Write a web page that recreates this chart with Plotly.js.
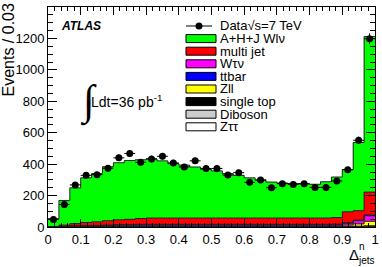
<!DOCTYPE html>
<html><head><meta charset="utf-8">
<script src="https://cdn.plot.ly/plotly-3.0.1.min.js"></script>
<style>html,body{margin:0;padding:0;background:#fff}#c{width:382px;height:267px}</style>
</head><body><div id="c"></div>
<script>
// 30 bins over [0,1]
const nBins = 30;
const xMin = 0, xMax = 1;
const dataCounts = [48,143,268,329,333,374,440,468,412,433,450,408,382,421,372,372,331,346,284,299,250,276,271,276,252,252,293,365,552,1198];
// MC components (per bin, not cumulative), bottom of stack first
const ztautau = [0,1,1,1,1,1,1,1,1,1,1,1,1,1,1,1,1,1,1,1,1,1,1,1,1,1,1,1,1,2];
const diboson = [0,0,1,1,1,1,1,1,1,1,1,1,1,1,1,1,1,1,1,1,1,1,1,1,1,1,1,1,1,2];
const singletop = [0,1,1,1,2,2,2,2,2,2,2,2,2,2,2,2,2,2,2,2,2,2,2,2,2,2,2,2,3,4];
const zll = [0,1,2,2,2,2,3,3,3,3,3,3,3,3,3,3,3,3,3,3,3,3,3,3,3,3,3,8,15,28];
const wtaunu = [0,1,2,3,3,4,6,6,7,7,7,7,7,7,7,7,7,7,7,7,7,7,7,7,7,7,8,12,20,35];
const ttbar = [0,0,1,1,1,2,2,2,3,3,3,3,3,3,3,3,3,3,3,3,3,3,3,3,3,3,3,3,4,6];
const multijet = [1,8,14,20,23,28,31,34,37,40,40,40,40,40,40,40,40,40,40,40,40,40,40,40,40,40,42,70,60,145];
const mcTotal = [53,169,249,313,340,384,409,423,428,434,421,403,394,382,367,357,340,329,313,300,286,280,277,274,272,288,318,365,538,1212];
const legendLabels = ["Data√s=7 TeV","A+H+J Wlν","multi jet","Wτν","ttbar","Zll","single top","Diboson","Zττ"];
const xTickVals = [0,0.1,0.2,0.3,0.4,0.5,0.6,0.7,0.8,0.9,1];
const xTickText = ["0","0.1","0.2","0.3","0.4","0.5","0.6","0.7","0.8","0.9","1"];
const yTickVals = [0,200,400,600,800,1000,1200,1400];

const bw = (xMax - xMin) / nBins;
const centers = dataCounts.map((_, i) => xMin + (i + 0.5) * bw);
const edges = Array.from({length: nBins + 1}, (_, i) => xMin + i * bw);

const others = [ztautau, diboson, singletop, zll, wtaunu, ttbar, multijet];
const sumOthers = centers.map((_, i) => others.reduce((s, a) => s + a[i], 0));
const signal = mcTotal.map((v, i) => Math.max(0, v - sumOthers[i]));

const layers = [
  {y: ztautau, color: '#ffffff'},
  {y: diboson, color: '#cccccc'},
  {y: singletop, color: '#000000'},
  {y: zll, color: '#ffff00'},
  {y: wtaunu, color: '#ff00ff'},
  {y: ttbar, color: '#0000ff'},
  {y: multijet, color: '#ff0000'},
  {y: signal, color: '#00ff00'}
];

const traces = [];
const cum = new Array(nBins).fill(0);
const outlines = [];
layers.forEach(L => {
  traces.push({type: 'bar', x: centers, y: L.y, width: bw, marker: {color: L.color, line: {width: 0}},
    showlegend: false, hoverinfo: 'skip'});
  L.y.forEach((v, i) => cum[i] += v);
  const ys = cum.slice(); ys.push(cum[nBins - 1]);
  outlines.push({type: 'scatter', mode: 'lines', x: edges, y: ys, line: {shape: 'hv', color: '#222', width: 1},
    showlegend: false, hoverinfo: 'skip'});
});
traces.push(...outlines);
traces.push({type: 'scatter', mode: 'markers', x: centers, y: dataCounts,
  marker: {color: '#000', size: 7},
  error_x: {type: 'constant', value: bw / 2, color: '#000', thickness: 1, width: 0},
  error_y: {type: 'data', array: dataCounts.map(v => Math.sqrt(v)), color: '#000', thickness: 1, width: 0},
  showlegend: false, hoverinfo: 'skip'});

// pixel -> paper helpers (plot area 48..375 x, 7..227 y)
const PL = 48, PR = 375, PT = 7, PB = 227;
const px = x => (x - PL) / (PR - PL);
const py = y => (PB - y) / (PB - PT);

const font = 'Liberation Sans, Arial, sans-serif';
const shapes = [];
const annotations = [];
// legend
const rowY0 = 26, rowDY = 12.6;
const boxColors = ['#00ff00','#ff0000','#ff00ff','#0000ff','#ffff00','#000000','#cccccc','#ffffff'];
shapes.push({type: 'line', xref: 'paper', yref: 'paper', x0: px(186), x1: px(212), y0: py(rowY0), y1: py(rowY0), line: {color: '#000', width: 1}});
shapes.push({type: 'circle', xref: 'paper', yref: 'paper', x0: px(195.5), x1: px(202.5), y0: py(rowY0 - 3.5), y1: py(rowY0 + 3.5), fillcolor: '#000', line: {color: '#000', width: 0}});
boxColors.forEach((c, k) => {
  const yc = rowY0 + (k + 1) * rowDY;
  shapes.push({type: 'rect', xref: 'paper', yref: 'paper', x0: px(186), x1: px(216), y0: py(yc - 4), y1: py(yc + 4), fillcolor: c, line: {color: '#000', width: 1}});
});
legendLabels.forEach((t, k) => {
  annotations.push({xref: 'paper', yref: 'paper', x: px(219), y: py(rowY0 + k * rowDY), text: t, showarrow: false,
    xanchor: 'left', yanchor: 'middle', borderpad: 0,
    font: {family: font, size: 13, color: '#000'}});
});
annotations.push({xref: 'paper', yref: 'paper', x: px(59), y: py(26), text: '<b><i>ATLAS</i></b>', showarrow: false,
  xanchor: 'left', yanchor: 'middle', font: {family: font, size: 12, color: '#000'}});
annotations.push({xref: 'paper', yref: 'paper', x: px(78), y: py(102), text: '∫', showarrow: false,
  xanchor: 'left', yanchor: 'middle', font: {family: 'Liberation Serif, DejaVu Serif, serif', size: 42, color: '#000'}});
annotations.push({xref: 'paper', yref: 'paper', x: px(89), y: py(101), text: 'Ldt=36 pb<sup>-1</sup>', showarrow: false,
  xanchor: 'left', yanchor: 'middle', font: {family: font, size: 14, color: '#000'}});
// x title
annotations.push({xref: 'paper', yref: 'paper', x: px(347), y: py(255), text: 'Δ', showarrow: false,
  xanchor: 'left', yanchor: 'middle', font: {family: font, size: 15, color: '#000'}});
annotations.push({xref: 'paper', yref: 'paper', x: px(358), y: py(247), text: 'n', showarrow: false,
  xanchor: 'left', yanchor: 'middle', borderpad: 0, font: {family: font, size: 10, color: '#000'}});
annotations.push({xref: 'paper', yref: 'paper', x: px(357), y: py(260), text: 'jets', showarrow: false,
  xanchor: 'left', yanchor: 'middle', borderpad: 0, font: {family: font, size: 10, color: '#000'}});
// y title
annotations.push({xref: 'paper', yref: 'paper', x: px(8), y: py(2), text: 'Events / 0.03', showarrow: false, textangle: -90,
  xanchor: 'center', yanchor: 'top', font: {family: font, size: 16, color: '#000'}});

const layout = {
  width: 382, height: 267,
  margin: {l: PL, r: 382 - PR, t: PT, b: 267 - PB, pad: 0},
  paper_bgcolor: '#fff', plot_bgcolor: '#fff',
  barmode: 'stack', bargap: 0,
  showlegend: false,
  font: {family: font, size: 13, color: '#000'},
  xaxis: {range: [xMin, xMax], tickvals: xTickVals, ticktext: xTickText, ticks: 'inside', ticklen: 8, tickcolor: '#000',
    showgrid: false, zeroline: false, showline: true, linecolor: '#000', linewidth: 1, mirror: 'allticks',
    minor: {dtick: 0.02, ticks: 'inside', ticklen: 4, tickcolor: '#000', showgrid: false},
    tickfont: {family: font, size: 13, color: '#000'}},
  yaxis: {range: [0, 1400], tickvals: yTickVals, ticks: 'inside', ticklen: 9, tickcolor: '#000',
    showgrid: false, zeroline: false, showline: true, linecolor: '#000', linewidth: 1, mirror: 'allticks',
    minor: {dtick: 50, ticks: 'inside', ticklen: 5, tickcolor: '#000', showgrid: false},
    tickfont: {family: font, size: 13, color: '#000'}},
  shapes: shapes,
  annotations: annotations
};
Plotly.newPlot('c', traces, layout, {staticPlot: true, displayModeBar: false});
</script>
</body></html>
